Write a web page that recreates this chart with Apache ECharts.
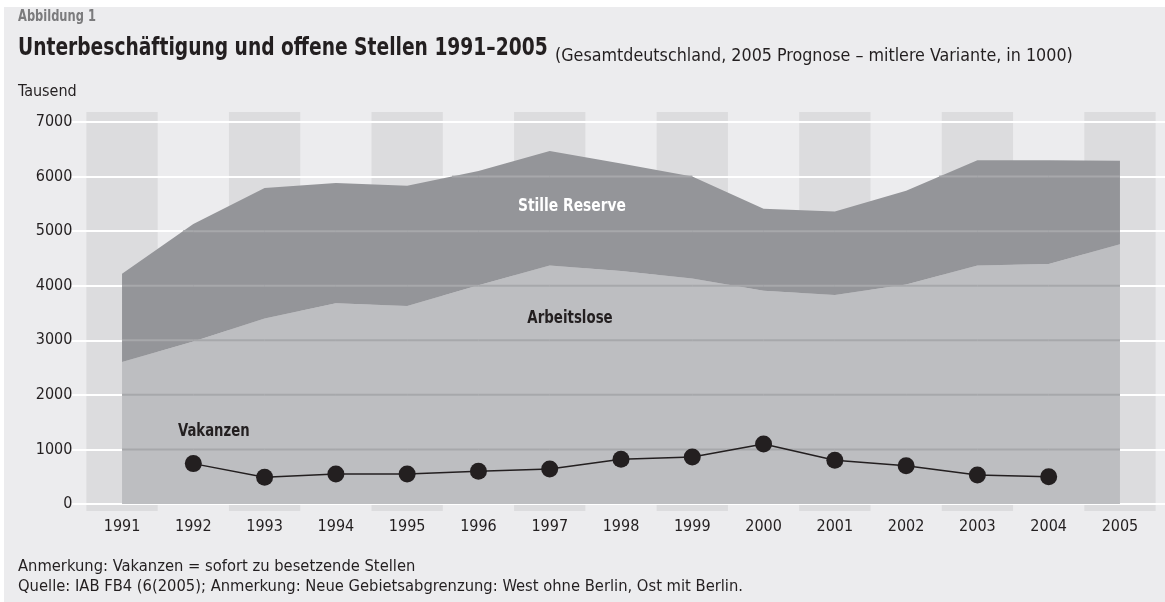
<!DOCTYPE html>
<html>
<head>
<meta charset="utf-8">
<script src="https://cdn.jsdelivr.net/npm/echarts@6/dist/echarts.min.js"></script>
<style>
html,body{margin:0;padding:0;background:#ffffff;}
#chart{width:1165px;height:602px;}
</style>
</head>
<body>
<div id="chart"></div>
<script>
// ---- data ----
const years = ['1991','1992','1993','1994','1995','1996','1997','1998','1999','2000','2001','2002','2003','2004','2005'];
const arbeitslose   = [2600, 2980, 3400, 3680, 3630, 4010, 4370, 4270, 4130, 3910, 3830, 4020, 4370, 4400, 4760];
const stilleReserve = [1620, 2150, 2390, 2200, 2200, 2090, 2100, 1970, 1870, 1500, 1530, 1720, 1930, 1900, 1530];
const vakanzen      = [null, 740, 490, 550, 550, 600, 640, 820, 860, 1100, 800, 700, 530, 500, null];
const yTicks = [0, 1000, 2000, 3000, 4000, 5000, 6000, 7000];
const gridLevels = [1000, 2000, 3000, 4000, 5000, 6000, 7000];

const FONT = '"Liberation Sans Narrow", "DejaVu Sans Condensed", "Liberation Sans", sans-serif';
const DARK = '#231f20';

const totals = years.map((_, i) => arbeitslose[i] + stilleReserve[i]);

const chart = echarts.init(document.getElementById('chart'), null, {renderer: 'canvas'});

function txt(x, y, text, font, fill, sx, align, z) {
  return {
    type: 'text', z: z || 10, x: x, y: y, scaleX: sx, originX: 0, originY: 0, silent: true,
    style: {text: text, font: font, fill: fill, align: align || 'left', verticalAlign: 'middle'}
  };
}

const option = {
  backgroundColor: '#ffffff',
  animation: false,
  textStyle: {fontFamily: FONT},
  grid: [
    {left: 86.4, right: 9.4, top: 122, bottom: 98},   // main plot
    {left: 72, right: 0, top: 122, bottom: 98},        // white gridlines
    {left: 86.4, right: 9.4, top: 112, bottom: 91}     // alternating bands
  ],
  xAxis: [
    {
      type: 'category', gridIndex: 0, data: years, boundaryGap: true,
      axisLine: {show: false}, axisTick: {show: false},
      axisLabel: {color: DARK, fontFamily: FONT, fontSize: 16, margin: 15},
      splitLine: {show: false}
    },
    {type: 'value', gridIndex: 1, show: false, min: 0, max: 1},
    {
      type: 'category', gridIndex: 2, data: years, boundaryGap: true, z: 0,
      axisLine: {show: false}, axisTick: {show: false}, axisLabel: {show: false},
      splitLine: {show: false},
      splitArea: {show: true, interval: 0, areaStyle: {color: ['#dcdcde', 'rgba(0,0,0,0)']}}
    }
  ],
  yAxis: [
    {
      type: 'value', gridIndex: 0, min: yTicks[0], max: yTicks[yTicks.length - 1], interval: 1000,
      axisLine: {show: false}, axisTick: {show: false},
      axisLabel: {color: DARK, fontFamily: FONT, fontSize: 16, margin: 14, formatter: v => String(v)},
      splitLine: {show: false}
    },
    {
      type: 'value', gridIndex: 1, min: yTicks[0], max: yTicks[yTicks.length - 1], interval: 1000, z: 1,
      axisLine: {show: false}, axisTick: {show: false}, axisLabel: {show: false},
      splitLine: {show: true, lineStyle: {color: '#ffffff', width: 2}}
    },
    {type: 'value', gridIndex: 2, show: false, min: 0, max: 1}
  ],
  graphic: [
    {type: 'rect', z: -10, silent: true, shape: {x: 4, y: 7, width: 1161, height: 595}, style: {fill: '#ececee'}},
    txt(18, 17, 'Abbildung 1', 'bold 15px ' + FONT, '#7b7b7d', 0.85),
    txt(18, 48, 'Unterbeschäftigung und offene Stellen 1991–2005', 'bold 25px ' + FONT, DARK, 0.83),
    txt(555, 56, '(Gesamtdeutschland, 2005 Prognose – mitlere Variante, in 1000)', '18px ' + FONT, DARK, 0.985),
    txt(18, 92, 'Tausend', '16px ' + FONT, DARK, 1),
    txt(18, 567, 'Anmerkung: Vakanzen = sofort zu besetzende Stellen', '16.4px ' + FONT, DARK, 1),
    txt(18, 587, 'Quelle: IAB FB4 (6(2005); Anmerkung: Neue Gebietsabgrenzung: West ohne Berlin, Ost mit Berlin.', '16.4px ' + FONT, DARK, 1),
    txt(572, 206, 'Stille Reserve', 'bold 17.5px ' + FONT, '#ffffff', 0.88, 'center'),
    txt(570, 318, 'Arbeitslose', 'bold 17.5px ' + FONT, DARK, 0.85, 'center'),
    txt(178, 431, 'Vakanzen', 'bold 17.5px ' + FONT, DARK, 0.84, 'left')
  ],
  series: [
    {
      name: 'Arbeitslose', type: 'line', xAxisIndex: 0, yAxisIndex: 0, stack: 'u',
      data: arbeitslose, symbol: 'none', silent: true, z: 2,
      lineStyle: {width: 0}, areaStyle: {color: '#bdbec1', opacity: 1}
    },
    {
      name: 'Stille Reserve', type: 'line', xAxisIndex: 0, yAxisIndex: 0, stack: 'u',
      data: stilleReserve, symbol: 'none', silent: true, z: 2,
      lineStyle: {width: 0}, areaStyle: {color: '#949599', opacity: 1}
    },
    {
      name: 'Gitter', type: 'custom', xAxisIndex: 0, yAxisIndex: 0, z: 3, silent: true,
      data: gridLevels.map(l => [0, l]),
      encode: {x: 0, y: 1},
      renderItem: function (params, api) {
        const level = api.value(1);
        const children = [];
        for (let i = 0; i < years.length - 1; i++) {
          const a = totals[i], b = totals[i + 1];
          if (a < level && b < level) continue;
          let f0 = 0, f1 = 1;
          if (a < level) f0 = (level - a) / (b - a);
          if (b < level) f1 = (a - level) / (a - b);
          const p0 = api.coord([i, level]);
          const p1 = api.coord([i + 1, level]);
          children.push({
            type: 'line',
            shape: {
              x1: p0[0] + (p1[0] - p0[0]) * f0, y1: p0[1],
              x2: p0[0] + (p1[0] - p0[0]) * f1, y2: p1[1]
            },
            style: {stroke: '#a7a8ab', lineWidth: 2}
          });
        }
        return {type: 'group', children: children};
      }
    },
    {
      name: 'Vakanzen', type: 'line', xAxisIndex: 0, yAxisIndex: 0, z: 5,
      data: vakanzen, symbol: 'circle', symbolSize: 17, showAllSymbol: true, connectNulls: false,
      lineStyle: {color: DARK, width: 1.5}, itemStyle: {color: DARK}
    }
  ]
};
chart.setOption(option);
</script>
</body>
</html>
